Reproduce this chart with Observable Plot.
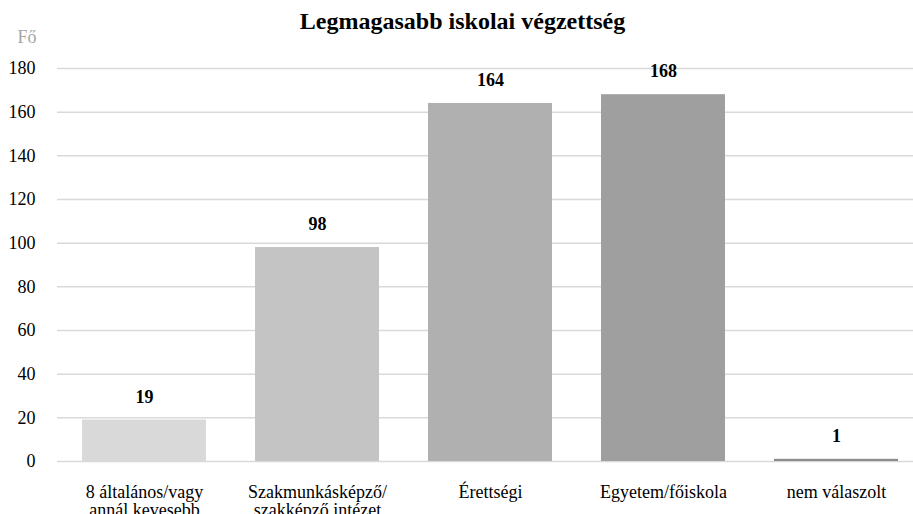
<!DOCTYPE html>
<html>
<head>
<meta charset="utf-8">
<script src="https://cdn.jsdelivr.net/npm/d3@7"></script>
<script src="https://cdn.jsdelivr.net/npm/@observablehq/plot@0.6"></script>
<style>
  html, body { margin: 0; padding: 0; background: #fff; }
  #chart { width: 913px; height: 514px; overflow: hidden; }
</style>
</head>
<body>
<div id="chart"></div>
<script>
const categories = ["8 általános/vagy\nannál kevesebb", "Szakmunkásképző/\nszakképző intézet", "Érettségi", "Egyetem/főiskola", "nem válaszolt"];
const values = [19, 98, 164, 168, 1];
const colors = ["#d9d9d9", "#c4c4c4", "#b0b0b0", "#9f9f9f", "#8c8c8c"];
const yTicks = [0, 20, 40, 60, 80, 100, 120, 140, 160, 180];
const title = "Legmagasabb iskolai végzettség";
const yLabel = "Fő";

const data = categories.map((c, i) => ({cat: c, value: values[i], color: colors[i]}));

const font = "Liberation Serif";

const chart = Plot.plot({
  width: 913,
  height: 514,
  marginLeft: 57,
  marginRight: 0,
  marginTop: 68,
  marginBottom: 53,
  style: "font-family: 'Liberation Serif'; font-size: 18px; background: #fff;",
  x: {domain: categories, range: [56.25, 923.75], paddingInner: 0.285, paddingOuter: 0.1425, axis: null},
  y: {domain: [0, 180], axis: null},
  marks: [
    Plot.ruleY(yTicks, {stroke: "#d9d9d9", strokeWidth: 1.5}),
    Plot.barY(data, {x: "cat", y: "value", fill: "color"}),
    Plot.text(data, {x: "cat", y: "value", text: d => String(d.value), lineAnchor: "middle", dy: -23, fontWeight: "bold", fontSize: 18, fill: "#000", fontFamily: font}),
    Plot.text(yTicks, {y: d => d, frameAnchor: "left", lineAnchor: "middle", dx: -22, textAnchor: "end", text: d => String(d), fontSize: 18, fill: "#000", fontFamily: font}),
    Plot.text(categories, {x: d => d, frameAnchor: "bottom", dy: 24, lineAnchor: "top", text: d => d, fontSize: 18, fill: "#000", lineHeight: 1.0, fontFamily: font}),
    Plot.text([title], {frameAnchor: "top", lineAnchor: "middle", dy: -47, dx: -23, text: d => d, fontWeight: "bold", fontSize: 24, fill: "#000", fontFamily: font}),
    Plot.text([yLabel], {frameAnchor: "top-left", lineAnchor: "middle", dx: -30.5, dy: -31, text: d => d, fontSize: 18, fill: "#a6a6a6", textAnchor: "middle", fontFamily: font})
  ]
});
document.getElementById("chart").appendChild(chart);
</script>
</body>
</html>
